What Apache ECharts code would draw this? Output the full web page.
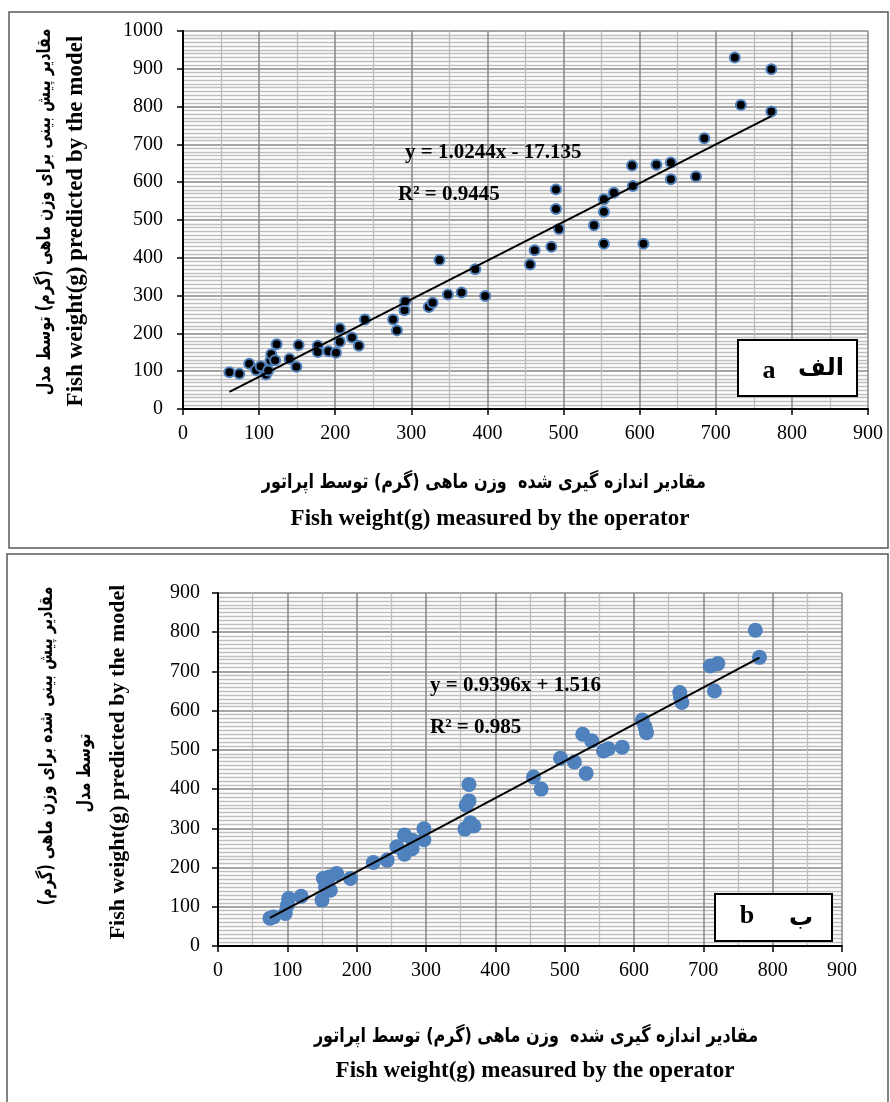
<!DOCTYPE html>
<html>
<head>
<meta charset="utf-8">
<script src="https://cdn.jsdelivr.net/npm/echarts@6/dist/echarts.min.js"></script>
<style>
html,body{margin:0;padding:0;background:#fff;}
#main{width:890px;height:1102px;}
</style>
</head>
<body>
<div id="main"></div>
<script>
// panel a (الف) : measured vs predicted
var measuredA = [61,74,87,96,102,109,112,115,116,121,123,140,149,152,177,177,191,201,206,206,
                 222,231,239,276,281,291,292,323,328,337,348,366,384,397,456,462,484,490,490,494,
                 540,553,553,553,566,590,591,605,622,641,641,674,685,725,733,773,773];
var predictedA = [97,93,120,103,113,91,102,128,145,129,171,133,112,169,167,151,153,149,213,178,
                  189,167,237,237,208,261,285,270,281,394,303,308,370,299,382,420,429,581,529,476,
                  486,555,522,437,572,644,590,437,646,652,608,615,716,930,804,899,787];
// panel b (ب)
var measuredB = [75,80,97,100,102,120,150,152,155,160,162,171,191,224,244,258,269,269,280,281,
                 297,297,356,358,362,362,364,369,455,466,494,514,526,531,539,556,563,583,612,616,
                 618,666,667,669,710,716,721,775,781];
var predictedB = [71,74,83,104,121,127,117,172,150,176,142,185,172,213,219,253,283,234,248,269,
                  299,271,298,359,412,370,314,306,431,400,479,469,540,440,523,497,503,507,576,558,
                  544,646,635,621,714,650,720,805,736];

var trendA = [1.0244, -17.135];
var trendB = [0.9396, 1.516];
var xMaxA = 900, yMaxA = 1000;
var xMaxB = 900, yMaxB = 900;

var serif = 'Liberation Serif, Times New Roman, serif';
var fa = 'DejaVu Sans, Noto Sans, sans-serif';

function zip(xs, ys){
    var out = [];
    for (var i = 0; i < xs.length; i++) out.push([xs[i], ys[i]]);
    return out;
}

// two end points of the fitted line over the x range of the data
function trendLine(xs, coef){
    var lo = Math.min.apply(null, xs), hi = Math.max.apply(null, xs);
    return [[lo, coef[0]*lo + coef[1]], [hi, coef[0]*hi + coef[1]]];
}

function makeAxis(grid, max, minorSplit, margin){
    return {
        type: 'value', gridIndex: grid, min: 0, max: max, interval: 100,
        axisLine: {show: true, onZero: false, lineStyle: {color: '#000', width: 2}},
        axisTick: {show: true, length: 6, lineStyle: {color: '#000', width: 1.5}},
        axisLabel: {color: '#000', fontFamily: serif, fontSize: 20, margin: margin,
                    formatter: function (v) { return String(v); }},
        splitLine: {show: true, lineStyle: {color: '#878787', width: 1.5}},
        minorTick: {show: false, splitNumber: minorSplit},
        minorSplitLine: {show: true, lineStyle: {color: '#bfbfbf', width: 1.3}}
    };
}

function txt(x, y, s, font, align, rot, sx){
    return {
        type: 'text', x: x, y: y, rotation: rot || 0, scaleX: sx || 1, z: 100,
        style: {text: s, font: font, fill: '#000', align: align || 'center', verticalAlign: 'middle'}
    };
}

var myChart = echarts.init(document.getElementById('main'));

var option = {
    animation: false,
    backgroundColor: '#fff',
    grid: [
        {left: 183, top: 31, width: 685, height: 378},
        {left: 218, top: 593, width: 624, height: 353}
    ],
    xAxis: [makeAxis(0, xMaxA, 2, 15), makeAxis(1, xMaxB, 2, 15)],
    yAxis: [makeAxis(0, yMaxA, 10, 20), makeAxis(1, yMaxB, 10, 18)],
    series: [
        {
            type: 'scatter', xAxisIndex: 0, yAxisIndex: 0,
            data: zip(measuredA, predictedA),
            symbolSize: 10,
            itemStyle: {color: '#000', borderColor: '#4f81bd', borderWidth: 2, opacity: 1}
        },
        {
            type: 'line', xAxisIndex: 0, yAxisIndex: 0, z: 5,
            data: trendLine(measuredA, trendA),
            symbol: 'none', lineStyle: {color: '#000', width: 2}
        },
        {
            type: 'scatter', xAxisIndex: 1, yAxisIndex: 1,
            data: zip(measuredB, predictedB),
            symbolSize: 15,
            itemStyle: {color: '#4f81bd', opacity: 1}
        },
        {
            type: 'line', xAxisIndex: 1, yAxisIndex: 1, z: 5,
            data: trendLine(measuredB, trendB),
            symbol: 'none', lineStyle: {color: '#000', width: 2}
        }
    ],
    graphic: [
        // panel frames
        {type: 'rect', z: 100, shape: {x: 9, y: 12, width: 879, height: 536},
         style: {fill: 'none', stroke: '#5a5a5a', lineWidth: 1.5}},
        {type: 'rect', z: 100, shape: {x: 7, y: 554, width: 881, height: 560},
         style: {fill: 'none', stroke: '#5a5a5a', lineWidth: 1.5}},

        // panel a
        txt(405, 153, 'y = 1.0244x - 17.135', 'bold 21px ' + serif, 'left'),
        txt(398, 195, 'R² = 0.9445', 'bold 21px ' + serif, 'left'),
        {type: 'rect', z: 100, shape: {x: 738, y: 340, width: 119, height: 56},
         style: {fill: '#fff', stroke: '#000', lineWidth: 2}},
        txt(769, 371, 'a', 'bold 26px ' + serif),
        txt(821, 369, 'الف', 'bold 24px ' + fa),
        txt(706, 483, 'مقادیر اندازه گیری شده  وزن ماهی (گرم) توسط اپراتور', 'bold 20px ' + fa, 'right', 0, 0.8),
        txt(490, 519, 'Fish weight(g) measured by the operator', 'bold 23px ' + serif),
        txt(45, 212, 'مقادیر پیش بینی برای وزن ماهی (گرم) توسط مدل', 'bold 19px ' + fa, 'center', Math.PI / 2, 0.76),
        txt(76, 221, 'Fish weight(g) predicted by the model', 'bold 23px ' + serif, 'center', Math.PI / 2),

        // panel b
        txt(430, 686, 'y = 0.9396x + 1.516', 'bold 21px ' + serif, 'left'),
        txt(430, 728, 'R² = 0.985', 'bold 21px ' + serif, 'left'),
        {type: 'rect', z: 100, shape: {x: 715, y: 894, width: 117, height: 47},
         style: {fill: '#fff', stroke: '#000', lineWidth: 2}},
        txt(747, 916, 'b', 'bold 26px ' + serif),
        txt(801, 919, 'ب', 'bold 24px ' + fa),
        txt(536, 1037, 'مقادیر اندازه گیری شده  وزن ماهی (گرم) توسط اپراتور', 'bold 20px ' + fa, 'center', 0, 0.8),
        txt(535, 1071, 'Fish weight(g) measured by the operator', 'bold 23px ' + serif),
        txt(47, 746, 'مقادیر پیش بینی شده برای وزن ماهی (گرم)', 'bold 19px ' + fa, 'center', Math.PI / 2, 0.76),
        txt(85, 773, 'توسط مدل', 'bold 19px ' + fa, 'center', Math.PI / 2, 0.76),
        txt(118, 762, 'Fish weight(g) predicted by the model', 'bold 22px ' + serif, 'center', Math.PI / 2)
    ]
};

myChart.setOption(option);
</script>
</body>
</html>
